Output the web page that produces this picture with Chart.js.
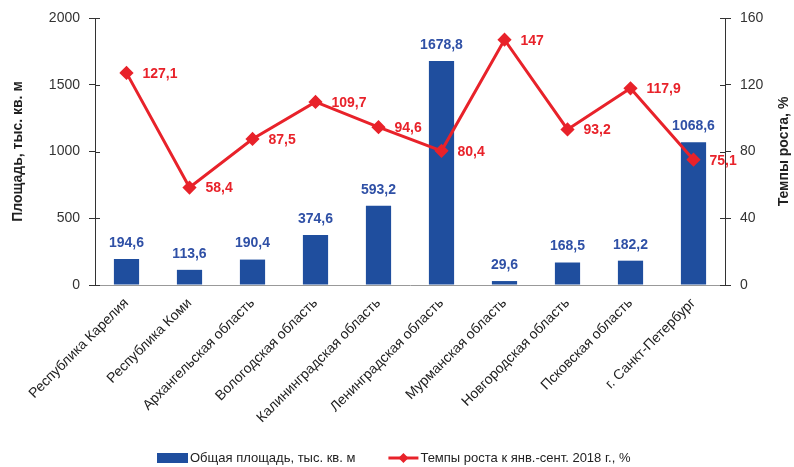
<!DOCTYPE html>
<html>
<head>
<meta charset="utf-8">
<script src="https://cdn.jsdelivr.net/npm/chart.js@4/dist/chart.umd.min.js"></script>
<style>
  html, body { margin: 0; padding: 0; background: #fff; }
  #wrap { width: 794px; height: 467px; position: relative; }
</style>
</head>
<body>
<div id="wrap"><canvas id="grafik"></canvas></div>
<script>
// данные
const regions = ['Республика Карелия', 'Республика Коми', 'Архангельская область', 'Вологодская область',
    'Калининградская область', 'Ленинградская область', 'Мурманская область', 'Новгородская область',
    'Псковская область', 'г. Санкт-Петербург'];
const area = [194.6, 113.6, 190.4, 374.6, 593.2, 1678.8, 29.6, 168.5, 182.2, 1068.6];
const growth = [127.1, 58.4, 87.5, 109.7, 94.6, 80.4, 147, 93.2, 117.9, 75.1];
const areaTicks = [0, 500, 1000, 1500, 2000];
const growthTicks = [0, 40, 80, 120, 160];

const BLUE = '#1f4e9e';
const BLUE_TXT = '#2f50a6';
const RED = '#e8222a';
const FONT = '"Liberation Sans", Arial, sans-serif';

function fmt(v) { return String(v).replace('.', ','); }

// подписи значений + легенда + правый заголовок оси
const extras = {
    id: 'extras',
    afterDatasetsDraw(chart) {
        const ctx = chart.ctx;
        ctx.save();
        ctx.font = 'bold 14px ' + FONT;
        ctx.textBaseline = 'middle';
        // столбцы
        const barMeta = chart.getDatasetMeta(0);
        ctx.fillStyle = BLUE_TXT;
        ctx.textAlign = 'center';
        barMeta.data.forEach((el, i) => {
            ctx.fillText(fmt(area[i]), el.x, el.y - 16);
        });
        // линия
        const lineMeta = chart.getDatasetMeta(1);
        ctx.fillStyle = RED;
        ctx.textAlign = 'left';
        lineMeta.data.forEach((el, i) => {
            ctx.fillText(fmt(growth[i]), el.x + 16, el.y + 1);
        });
        ctx.restore();
    },
    afterDraw(chart) {
        const ctx = chart.ctx;
        const ca = chart.chartArea;
        ctx.save();
        // засечки внутрь области графика
        ctx.strokeStyle = '#333';
        ctx.lineWidth = 1;
        const yl = chart.scales.y, yr = chart.scales.y1;
        ctx.beginPath();
        areaTicks.forEach(v => {
            const py = Math.round(yl.getPixelForValue(v)) + 0.5;
            ctx.moveTo(ca.left, py); ctx.lineTo(ca.left + 5, py);
        });
        growthTicks.forEach(v => {
            const py = Math.round(yr.getPixelForValue(v)) + 0.5;
            ctx.moveTo(ca.right - 5, py); ctx.lineTo(ca.right, py);
        });
        ctx.stroke();

        // правый заголовок
        ctx.font = 'bold 14px ' + FONT;
        ctx.fillStyle = '#222';
        ctx.textAlign = 'center';
        ctx.textBaseline = 'middle';
        ctx.translate(784, (ca.top + ca.bottom) / 2);
        ctx.rotate(-Math.PI / 2);
        ctx.fillText('Темпы роста, %', 0, 0);
        ctx.restore();

        // легенда
        ctx.save();
        ctx.font = '13px ' + FONT;
        ctx.textBaseline = 'middle';
        ctx.textAlign = 'left';
        const y = 458;
        let x = 157;
        const ds = chart.data.datasets;
        ctx.fillStyle = BLUE;
        ctx.fillRect(x, y - 5, 31, 10);
        x += 33;
        ctx.fillStyle = '#222';
        ctx.fillText(ds[0].label, x, y);
        x += ctx.measureText(ds[0].label).width + 33;
        ctx.strokeStyle = RED;
        ctx.lineWidth = 3;
        ctx.beginPath();
        ctx.moveTo(x, y);
        ctx.lineTo(x + 30, y);
        ctx.stroke();
        ctx.fillStyle = RED;
        ctx.beginPath();
        ctx.moveTo(x + 15, y - 5);
        ctx.lineTo(x + 20, y);
        ctx.lineTo(x + 15, y + 5);
        ctx.lineTo(x + 10, y);
        ctx.closePath();
        ctx.fill();
        x += 32;
        ctx.fillStyle = '#222';
        ctx.fillText(ds[1].label, x, y);
        ctx.restore();
    }
};

document.addEventListener('DOMContentLoaded', function() {
    const ctx = document.getElementById('grafik').getContext('2d');
    const data = {
        labels: regions,
        datasets: [
            {
                type: 'bar',
                label: 'Общая площадь, тыс. кв. м',
                data: area,
                backgroundColor: BLUE,
                yAxisID: 'y',
                categoryPercentage: 0.8,
                barPercentage: 0.5,
                order: 2
            },
            {
                type: 'line',
                label: 'Темпы роста к янв.-сент. 2018 г., %',
                data: growth,
                borderColor: RED,
                backgroundColor: RED,
                borderWidth: 3,
                pointStyle: 'rectRot',
                pointRadius: 5,
                pointHoverRadius: 5,
                yAxisID: 'y1',
                order: 1
            }
        ]
    };
    const config = {
        type: 'bar',
        data: data,
        plugins: [extras],
        options: {
            responsive: true,
            maintainAspectRatio: false,
            animation: false,
            layout: { padding: { top: 18, left: 0, right: 0, bottom: 0 } },
            plugins: {
                legend: { display: false },
                tooltip: { enabled: false }
            },
            scales: {
                x: {
                    grid: { display: false },
                    border: { color: '#999', width: 1 },
                    ticks: {
                        color: '#222',
                        font: { family: FONT, size: 14 },
                        minRotation: 45,
                        maxRotation: 45,
                        autoSkip: false,
                        padding: 2
                    },
                    afterFit(scale) { scale.height = 182; }
                },
                y: {
                    position: 'left',
                    min: 0,
                    max: 2000,
                    afterBuildTicks(scale) { scale.ticks = areaTicks.map(v => ({ value: v })); },
                    grid: { drawOnChartArea: false, tickLength: 6, color: '#333' },
                    border: { color: '#333', width: 1 },
                    ticks: {
                        color: '#333',
                        font: { family: FONT, size: 14 },
                        padding: 9,
                        callback: v => String(v)
                    },
                    title: {
                        display: true,
                        text: 'Площадь, тыс. кв. м',
                        color: '#222',
                        font: { family: FONT, size: 14, weight: 'bold' },
                        padding: { top: 10, bottom: 0 }
                    },
                    afterFit(scale) { scale.width = 95; }
                },
                y1: {
                    position: 'right',
                    min: 0,
                    max: 160,
                    afterBuildTicks(scale) { scale.ticks = growthTicks.map(v => ({ value: v })); },
                    grid: { drawOnChartArea: false, tickLength: 6, color: '#333' },
                    border: { color: '#333', width: 1 },
                    ticks: {
                        color: '#333',
                        font: { family: FONT, size: 14 },
                        padding: 9,
                        callback: v => String(v)
                    },
                    afterFit(scale) { scale.width = 69; }
                }
            }
        }
    };
    new Chart(ctx, config);
});
</script>
</body>
</html>
